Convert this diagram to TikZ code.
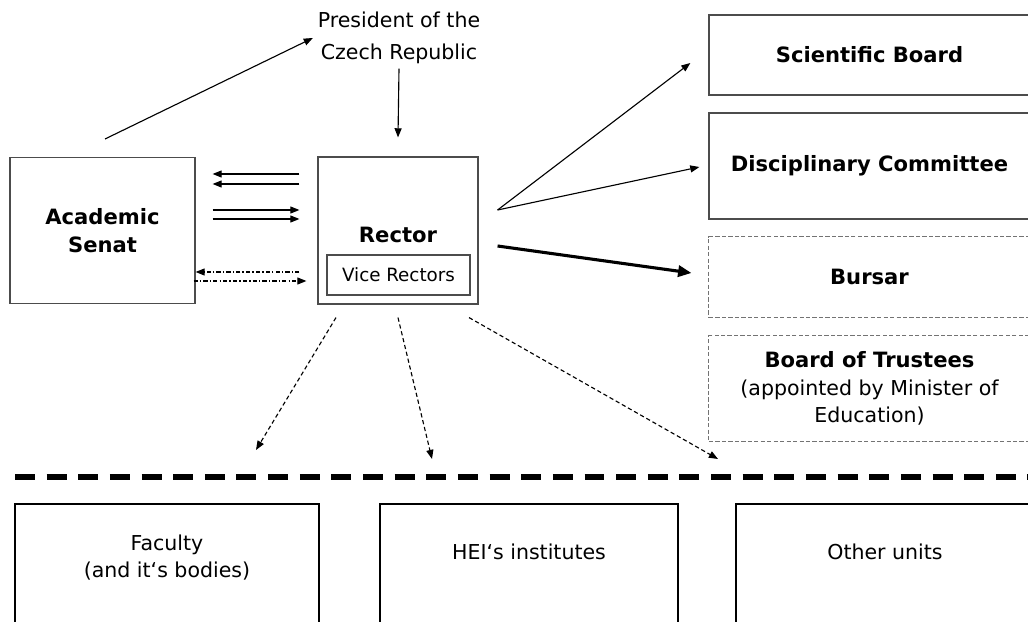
\documentclass[tikz,border=0pt]{standalone}
\usepackage{fontspec}
\setmainfont{DejaVu Sans}
\usetikzlibrary{arrows.meta,calc,positioning}

\tikzset{
  orgbox/.style={draw=black!70, line width=0.8pt, inner sep=0pt},
  dashbox/.style={draw=black!55, dash pattern=on 3pt off 1.6pt, line width=0.7pt, inner sep=0pt},
  unitbox/.style={draw=black, line width=1.7pt, inner sep=0pt},
  boldtxt/.style={font=\fontsize{15}{20}\selectfont\bfseries, align=center},
  plaintxt/.style={font=\fontsize{14.6}{19.5}\selectfont, align=center},
  link/.style={-{Triangle[length=6.5pt,width=5pt]}, line width=0.8pt},
  biglink/.style={-{Triangle[length=9.5pt,width=8pt]}, line width=2.2pt},
  duty/.style={link, dash pattern=on 3pt off 2pt},
  consult/.style={link, dash pattern=on 3pt off 1.5pt on 1pt off 1.5pt},
  divider/.style={line width=3.6pt, dash pattern=on 14.2pt off 8.3pt},
}

\begin{document}
\begin{tikzpicture}[x=0.025cm, y=-0.025cm]
   \useasboundingbox (0,0) rectangle (1028,622);
   \clip (0,0) rectangle (1028,622);

   \node[plaintxt, font=\fontsize{14.6}{22.5}\selectfont] (president) at (399,38)
     {President of the\\Czech Republic};

   \node[orgbox, boldtxt, minimum width=4.625cm, minimum height=3.65cm] (senat)
     at (102.5,230.5) {Academic\\Senat};
   \node[orgbox, minimum width=4cm, minimum height=3.675cm] (rector) at (398,230.5) {};
   \node[boldtxt] (rectorname) at (398,235) {Rector};
   \node[orgbox, font=\fontsize{13}{16}\selectfont, minimum width=3.575cm,
     minimum height=1cm] (vice) at (398.5,275) {Vice Rectors};

   \node[orgbox, boldtxt, minimum width=8.025cm, minimum height=2cm] (sci)
     at (869.5,55) {Scientific Board};
   \node[orgbox, boldtxt, minimum width=8.025cm, minimum height=2.65cm] (disc)
     at (869.5,166) {Disciplinary Committee};
   \node[dashbox, boldtxt, minimum width=8.025cm, minimum height=2cm] (bursar)
     at (869.5,277) {Bursar};
   \node[dashbox, plaintxt, minimum width=8.025cm, minimum height=2.625cm] (trustees)
     at (869.5,388.5) {{\bfseries\fontsize{15}{20}\selectfont Board of Trustees}\\
     (appointed by Minister of\\Education)};

   \node[unitbox, minimum width=7.6cm, minimum height=4cm] (faculty) at (167,584) {};
   \node[unitbox, minimum width=7.45cm, minimum height=4cm] (hei) at (529,584) {};
   \node[unitbox, minimum width=7.45cm, minimum height=4cm] (other) at (885,584) {};
   \node[plaintxt] (facultyname) at ($(faculty.north)+(0,55)$) {Faculty\\(and it‘s bodies)};
   \node[plaintxt] (heiname) at ($(hei.north)+(0,49)$) {HEI‘s institutes};
   \node[plaintxt] (othername) at ($(other.north)+(0,49)$) {Other units};

   \coordinate (senattop) at (105,139);
   \draw[link] (senattop) -- (president.west);
   \draw[link] (president.south) -- ($(rector.north)+(0,-19)$);

   \draw[link] ($(rector.west)+(-18,-56.5)$) -- ($(senat.east)+(17,-56.5)$);
   \draw[link] ($(rector.west)+(-18,-46.5)$) -- ($(senat.east)+(17,-46.5)$);
   \draw[link] ($(senat.east)+(17,-20.5)$) -- ($(rector.west)+(-18,-20.5)$);
   \draw[link] ($(senat.east)+(17,-11.5)$) -- ($(rector.west)+(-18,-11.5)$);
   \draw[consult] ($(rector.west)+(-18,41.5)$) -- ($(senat.east)+(0,41.5)$);
   \draw[consult] ($(senat.east)+(-2,50.5)$) -- ($(rector.west)+(-11,50.5)$);

   \coordinate (fork) at ($(rector.east)+(19,-20.5)$);
   \draw[link] (fork) -- ($(sci.west)+(-18,8)$);
   \draw[link] (fork) -- ($(disc.west)+(-9,1)$);
   \draw[biglink] ($(rector.east)+(19,15.5)$) -- ($(bursar.west)+(-17,-4)$);

   \coordinate (tofaculty) at (256,450);
   \coordinate (tohei) at (432,459);
   \coordinate (toother) at (718,459);
   \draw[duty] ($(rector.south)+(-62,13)$) -- (tofaculty);
   \draw[duty] ($(rector.south)+(0,13)$) -- (tohei);
   \draw[duty] ($(rector.south)+(71,13)$) -- (toother);

   \coordinate (divl) at (15,477);
   \coordinate (divr) at (1040,477);
   \draw[divider] (divl) -- (divr);
\end{tikzpicture}
\end{document}
